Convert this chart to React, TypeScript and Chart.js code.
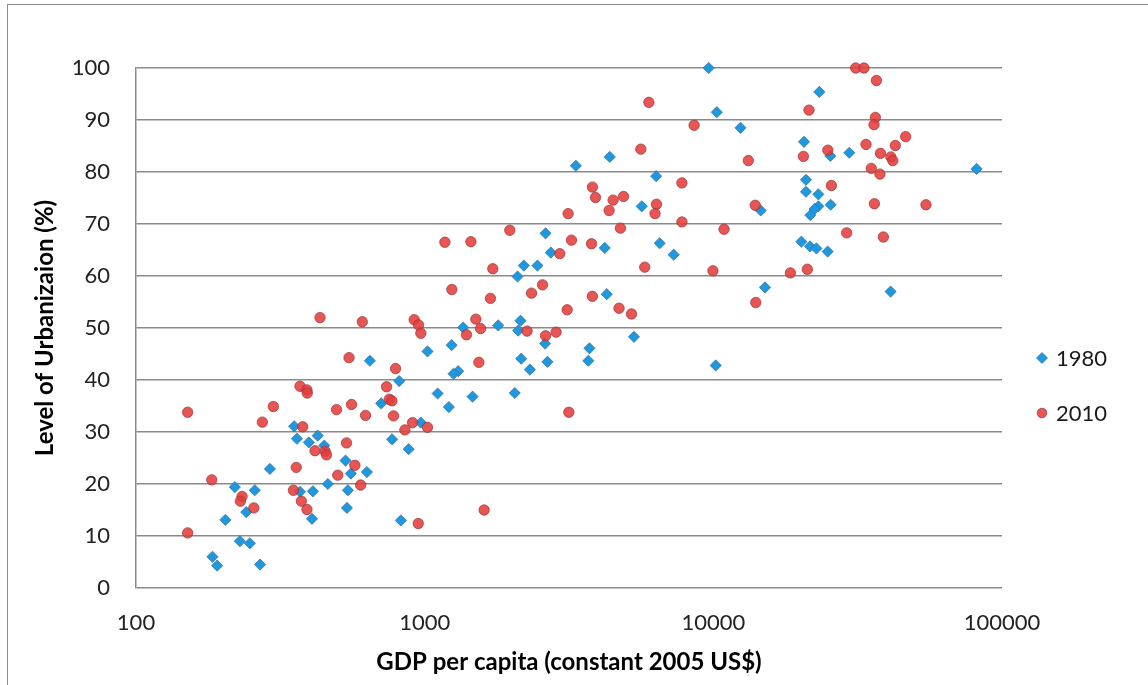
import React, { useEffect, useRef } from "react";
import { Chart, registerables } from "chart.js";

Chart.register(...registerables);

// ---- data ----
const seriesLabels = ["1980", "2010"];

const gdp1980 = [
  646, 816, 707, 970, 1023, 353, 361, 397, 426, 449, 771, 880, 291, 532, 555, 631,
  462, 220, 258, 370, 410, 542, 241, 204, 538, 407, 827, 229, 248, 184, 191, 269,
  2622, 2735, 2205, 2459, 2098, 1359, 1798, 2148, 2109, 2613, 1240, 3722, 3690, 2160,
  2314, 2663, 1306, 1259, 1109, 1465, 2052, 1213, 10190, 5310, 9640, 10280, 12420,
  4378, 3340, 6336, 5650, 6519, 7289, 4206, 4275, 23290, 20610, 25430, 29580, 81660,
  20940, 20940, 23110, 25490, 23110, 22420, 21680, 14590, 20180, 21620, 22750, 24890,
  15100, 41120,
];
const urban1980 = [
  43.7, 39.8, 35.5, 31.8, 45.5, 31.1, 28.7, 28.0, 29.3, 27.4, 28.6, 26.7, 22.9, 24.5, 22.0, 22.3,
  20.0, 19.4, 18.8, 18.5, 18.6, 18.8, 14.6, 13.1, 15.4, 13.3, 13.0, 9.0, 8.6, 6.0, 4.3, 4.5,
  68.2, 64.5, 62.0, 62.0, 59.9, 50.1, 50.5, 51.4, 49.5, 47.0, 46.7, 46.1, 43.7, 44.1,
  42.0, 43.5, 41.7, 41.2, 37.4, 36.8, 37.5, 34.8, 42.8, 48.3, 100, 91.5, 88.5,
  82.9, 81.2, 79.2, 73.4, 66.3, 64.1, 65.4, 56.5, 95.4, 85.8, 83.1, 83.7, 80.6,
  78.5, 76.2, 75.7, 73.7, 73.4, 72.9, 71.7, 72.6, 66.6, 65.7, 65.3, 64.7,
  57.8, 57.0,
];

const gdp2010 = [
  434, 608, 920, 952, 970, 547, 793, 738, 754, 770, 780, 370, 391, 392, 299, 151,
  274, 495, 558, 624, 378, 854, 908, 1023, 536, 417, 452, 457, 573, 359, 500, 600,
  183, 351, 233, 230, 256, 374, 391, 950, 151,
  3140, 1972, 1175, 1446, 3225, 3784, 2938, 1722, 1242, 1690, 2560, 2345, 3810, 3116,
  1504, 1396, 1562, 2263, 2623, 2853, 1541, 3158, 1607,
  5980, 8578, 5608, 13220, 7780, 3812, 3905, 4496, 4886, 4354, 6354, 6281, 7785, 4766,
  10890, 13970, 5786, 9970, 4713, 5206, 14030,
  31120, 33240, 36720, 21450, 36410, 36030, 46380, 33800, 42690, 24930, 37920, 41200,
  41860, 20510, 35250, 37770, 25640, 36140, 54530, 28970, 38810, 18490, 21170,
];
const urban2010 = [
  52.0, 51.2, 51.6, 50.6, 49.0, 44.3, 42.2, 38.7, 36.3, 36.0, 33.1, 38.8, 38.1, 37.5, 34.9, 33.8,
  31.9, 34.3, 35.3, 33.2, 31.0, 30.4, 31.8, 30.9, 27.9, 26.4, 26.3, 25.6, 23.6, 23.2, 21.7, 19.8,
  20.8, 18.8, 17.6, 16.7, 15.4, 16.7, 15.1, 12.4, 10.6,
  72.0, 68.8, 66.5, 66.6, 66.9, 66.2, 64.3, 61.4, 57.4, 55.7, 58.3, 56.7, 56.1, 53.5,
  51.7, 48.7, 49.9, 49.4, 48.5, 49.2, 43.4, 33.8, 15.0,
  93.4, 89.0, 84.4, 82.2, 77.9, 77.1, 75.1, 74.6, 75.3, 72.6, 73.8, 72.0, 70.4, 69.2,
  69.0, 73.6, 61.7, 61.0, 53.8, 52.7, 54.9,
  100, 100, 97.6, 91.9, 90.5, 89.1, 86.8, 85.3, 85.1, 84.2, 83.6, 82.9,
  82.2, 83.0, 80.7, 79.6, 77.4, 73.9, 73.7, 68.3, 67.5, 60.6, 61.3,
];

const xTickValues = [100, 1000, 10000, 100000];
const yMin = 0;
const yMax = 100;
const yStep = 10;

const xTitle = "GDP per capita (constant 2005 US$)";
const yTitle = "Level of Urbanizaion (%)";

// ---- styles ----
const FONT = "Lato, 'Open Sans', sans-serif";
const BLUE_FILL = "rgba(30,152,222,1)";
const BLUE_BORDER = "rgba(50,110,160,0.9)";
const RED_FILL = "rgba(228,62,62,0.88)";
const RED_BORDER = "rgba(160,50,50,0.9)";
const GRID = "#8a8a8a";

const toPoints = (xs: number[], ys: number[]) => xs.map((x, i) => ({ x, y: ys[i] }));

const sideLegend = {
  id: "sideLegend",
  afterDraw(chart: any) {
    const { ctx, chartArea } = chart;
    const items = [
      { label: seriesLabels[0], style: "rectRot", fill: BLUE_FILL, border: BLUE_BORDER, r: 5.5 },
      { label: seriesLabels[1], style: "circle", fill: RED_FILL, border: RED_BORDER, r: 4.8 },
    ];
    const markX = chartArea.right + 40;
    const textX = chartArea.right + 54;
    const firstY = chartArea.top + 290;
    const gap = 55;
    ctx.save();
    items.forEach((it, i) => {
      const y = firstY + i * gap;
      ctx.fillStyle = it.fill;
      ctx.strokeStyle = it.border;
      ctx.lineWidth = 0.8;
      ctx.beginPath();
      if (it.style === "rectRot") {
        ctx.moveTo(markX - it.r, y);
        ctx.lineTo(markX, y - it.r);
        ctx.lineTo(markX + it.r, y);
        ctx.lineTo(markX, y + it.r);
        ctx.closePath();
      } else {
        ctx.arc(markX, y, it.r, 0, Math.PI * 2);
      }
      ctx.fill();
      ctx.stroke();
      ctx.fillStyle = "#1a1a1a";
      ctx.font = `22px ${FONT}`;
      ctx.textAlign = "left";
      ctx.textBaseline = "middle";
      ctx.fillText(it.label, textX, y + 1);
    });
    ctx.restore();
  },
};

export default function App() {
  const canvasRef = useRef<HTMLCanvasElement | null>(null);

  useEffect(() => {
    if (!canvasRef.current) return;
    const chart = new Chart(canvasRef.current, {
      type: "scatter",
      data: {
        datasets: [
          {
            label: seriesLabels[0],
            data: toPoints(gdp1980, urban1980),
            pointStyle: "rectRot",
            pointRadius: 5.6,
            pointBackgroundColor: BLUE_FILL,
            pointBorderColor: BLUE_BORDER,
            pointBorderWidth: 0.8,
            clip: false,
            order: 2,
          },
          {
            label: seriesLabels[1],
            data: toPoints(gdp2010, urban2010),
            pointStyle: "circle",
            pointRadius: 5.2,
            pointBackgroundColor: RED_FILL,
            pointBorderColor: RED_BORDER,
            pointBorderWidth: 0.8,
            clip: false,
            order: 1,
          },
        ],
      },
      options: {
        animation: false,
        responsive: false,
        maintainAspectRatio: false,
        layout: { padding: { top: 68, right: 146, left: 0, bottom: 0 } },
        plugins: {
          legend: { display: false },
          tooltip: { enabled: false },
        },
        scales: {
          x: {
            type: "logarithmic",
            min: xTickValues[0],
            max: xTickValues[xTickValues.length - 1],
            afterBuildTicks: (scale: any) => {
              scale.ticks = xTickValues.map((v) => ({ value: v }));
            },
            afterFit: (scale: any) => {
              scale.height = 97;
            },
            ticks: {
              autoSkip: false,
              maxRotation: 0,
              padding: 22,
              color: "#222",
              font: { family: FONT, size: 22 },
              callback: (v: any) => String(v),
            },
            grid: { display: false, drawTicks: false },
            border: { display: false },
            title: {
              display: true,
              text: xTitle,
              color: "#000",
              font: { family: FONT, size: 24, weight: "bold" },
              padding: { top: 0, bottom: 8 },
            },
          },
          y: {
            min: yMin,
            max: yMax,
            afterFit: (scale: any) => {
              scale.width = 136;
            },
            ticks: {
              stepSize: yStep,
              padding: 26,
              color: "#222",
              font: { family: FONT, size: 22 },
            },
            grid: { color: GRID, lineWidth: 1.5, drawTicks: false },
            border: { display: true, color: GRID, width: 1.5 },
            title: {
              display: true,
              text: yTitle,
              color: "#000",
              font: { family: FONT, size: 24, weight: "bold" },
              padding: { top: 31, bottom: 0 },
            },
          },
        },
      },
      plugins: [sideLegend],
    });
    return () => chart.destroy();
  }, []);

  return (
    <div
      style={{
        position: "fixed",
        left: 0,
        top: 0,
        width: 1148,
        height: 685,
        overflow: "hidden",
        background: "#fff",
      }}
    >
      <div
        style={{
          position: "absolute",
          left: 7,
          top: 4,
          width: 1300,
          height: 900,
          border: "1px solid #8c8c8c",
          boxSizing: "border-box",
          pointerEvents: "none",
        }}
      />
      <canvas
        ref={canvasRef}
        width={1148}
        height={685}
        style={{ position: "absolute", left: 0, top: 0, width: 1148, height: 685 }}
      />
    </div>
  );
}
